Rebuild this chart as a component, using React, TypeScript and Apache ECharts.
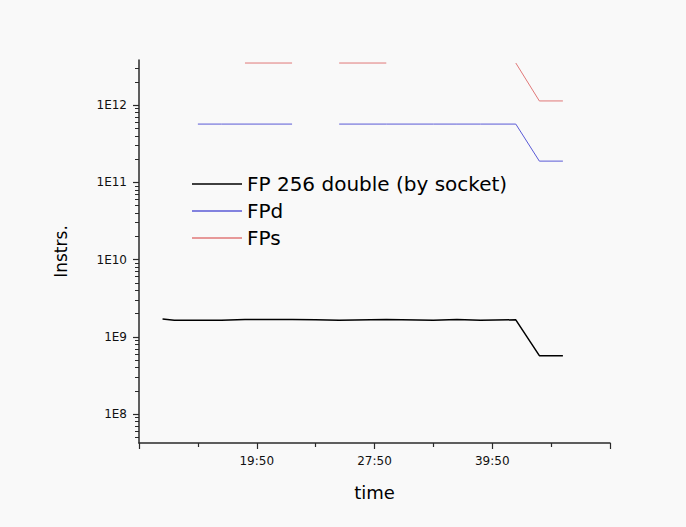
import React, { useEffect, useRef } from "react";
import * as echarts from "echarts";

// sample positions along the time axis (axis units; one tick = 1 unit)
const sampleX = [0.4, 0.6, 1.0, 1.4, 1.8, 2.6, 3.0, 3.4, 4.2, 5.0, 5.4, 5.8, 6.4, 6.8, 7.2];

const fp256Values = [1.7e9, 1.64e9, 1.64e9, 1.64e9, 1.68e9, 1.68e9, 1.66e9, 1.64e9, 1.68e9, 1.64e9, 1.68e9, 1.64e9, 1.66e9, 5.7e8, 5.7e8];
const fpdValues = [null, null, 5.67e11, 5.67e11, 5.67e11, 5.67e11, null, 5.67e11, 5.67e11, 5.67e11, 5.67e11, 5.67e11, 5.67e11, 1.88e11, 1.88e11];
const fpsValues = [null, null, null, null, 3.5e12, 3.5e12, null, 3.5e12, 3.5e12, null, null, null, 3.5e12, 1.13e12, 1.13e12];

const seriesNames = ["FP 256 double (by socket)", "FPd", "FPs"];
const seriesColors = ["#000000", "#5a5ad6", "#e07878"];
const seriesWidths = [1.5, 1, 1];

const xTickValues = [2, 4, 6];
const xTickLabels = ["19:50", "27:50", "39:50"];

// decade exponents of the labelled y ticks (1E8 ... 1E12)
const yDecades = [8, 9, 10, 11, 12];
const yMinorExps: number[] = [];
for (let d = 7; d <= 12; d++) {
  for (let m = 2; m <= 9; m++) yMinorExps.push(d + Math.log10(m));
}

const Y_MIN = 4.22e7;
const Y_MAX = 3.83e12;

function pairs(vals: (number | null)[]) {
  return sampleX.map((x, i) => [x, vals[i] === null ? "-" : vals[i]]);
}

export default function App() {
  const ref = useRef<HTMLDivElement>(null);
  useEffect(() => {
    if (!ref.current) return;
    const chart = echarts.init(ref.current, undefined, { renderer: "svg" });
    const font = "DejaVu Sans";
    const axisColor = "#2a2a2a";
    const allSeries = [fp256Values, fpdValues, fpsValues];
    const lo = Math.log10(Y_MIN);
    const hi = Math.log10(Y_MAX);
    chart.setOption({
      animation: false,
      backgroundColor: "#f9f9f9",
      grid: { left: 139, top: 60, width: 471, height: 383 },
      legend: {
        orient: "vertical",
        left: 192,
        top: 174,
        padding: 0,
        itemWidth: 50,
        itemHeight: 1.5,
        itemGap: 7,
        selectedMode: false,
        data: seriesNames.map((n, i) => ({
          name: n,
          icon: "rect",
          itemStyle: { color: seriesColors[i] },
        })),
        textStyle: { fontFamily: font, fontSize: 20, lineHeight: 20, color: "#000" },
      },
      xAxis: {
        type: "value",
        min: 0,
        max: 8,
        interval: 2,
        name: "time",
        nameLocation: "middle",
        nameGap: 40,
        nameTextStyle: { fontFamily: font, fontSize: 18, color: "#000" },
        axisLine: { lineStyle: { color: axisColor, width: 1.5 } },
        axisTick: { length: 6, lineStyle: { color: axisColor, width: 1.2 } },
        minorTick: { show: true, splitNumber: 2, length: 4, lineStyle: { color: axisColor, width: 1.2 } },
        splitLine: { show: false },
        axisLabel: {
          customValues: xTickValues,
          margin: 12,
          fontFamily: font,
          fontSize: 12,
          color: "#111",
          formatter: (v: number) => {
            const i = xTickValues.indexOf(v);
            return i >= 0 ? xTickLabels[i] : "";
          },
        },
      },
      yAxis: [
        {
          type: "log",
          logBase: 10,
          min: Y_MIN,
          max: Y_MAX,
          name: "Instrs.",
          nameLocation: "middle",
          nameGap: 70,
          nameTextStyle: { fontFamily: font, fontSize: 17, color: "#000" },
          axisLine: { show: true, lineStyle: { color: axisColor, width: 1.5 } },
          axisTick: { show: false },
          axisLabel: { show: false },
          splitLine: { show: false },
        },
        {
          type: "value",
          min: lo,
          max: hi,
          position: "left",
          axisLine: { show: false },
          axisTick: { show: true, customValues: yDecades, length: 6, lineStyle: { color: axisColor, width: 1.2 } },
          splitLine: { show: false },
          axisLabel: {
            customValues: yDecades,
            margin: 12,
            fontFamily: font,
            fontSize: 12,
            color: "#111",
            formatter: (v: number) => "1E" + Math.round(v),
          },
        },
        {
          type: "value",
          min: lo,
          max: hi,
          position: "left",
          axisLine: { show: false },
          axisTick: { show: true, customValues: yMinorExps, length: 4, lineStyle: { color: axisColor, width: 1 } },
          axisLabel: { show: false },
          splitLine: { show: false },
        },
      ],
      series: seriesNames.map((n, i) => ({
        name: n,
        type: "line",
        yAxisIndex: 0,
        data: pairs(allSeries[i]),
        symbol: "none",
        connectNulls: false,
        lineStyle: { color: seriesColors[i], width: seriesWidths[i] },
        itemStyle: { color: seriesColors[i] },
      })),
    });
    return () => chart.dispose();
  }, []);
  return (
    <div
      ref={ref}
      style={{ position: "absolute", left: 0, top: 0, width: 686, height: 527 }}
    />
  );
}
